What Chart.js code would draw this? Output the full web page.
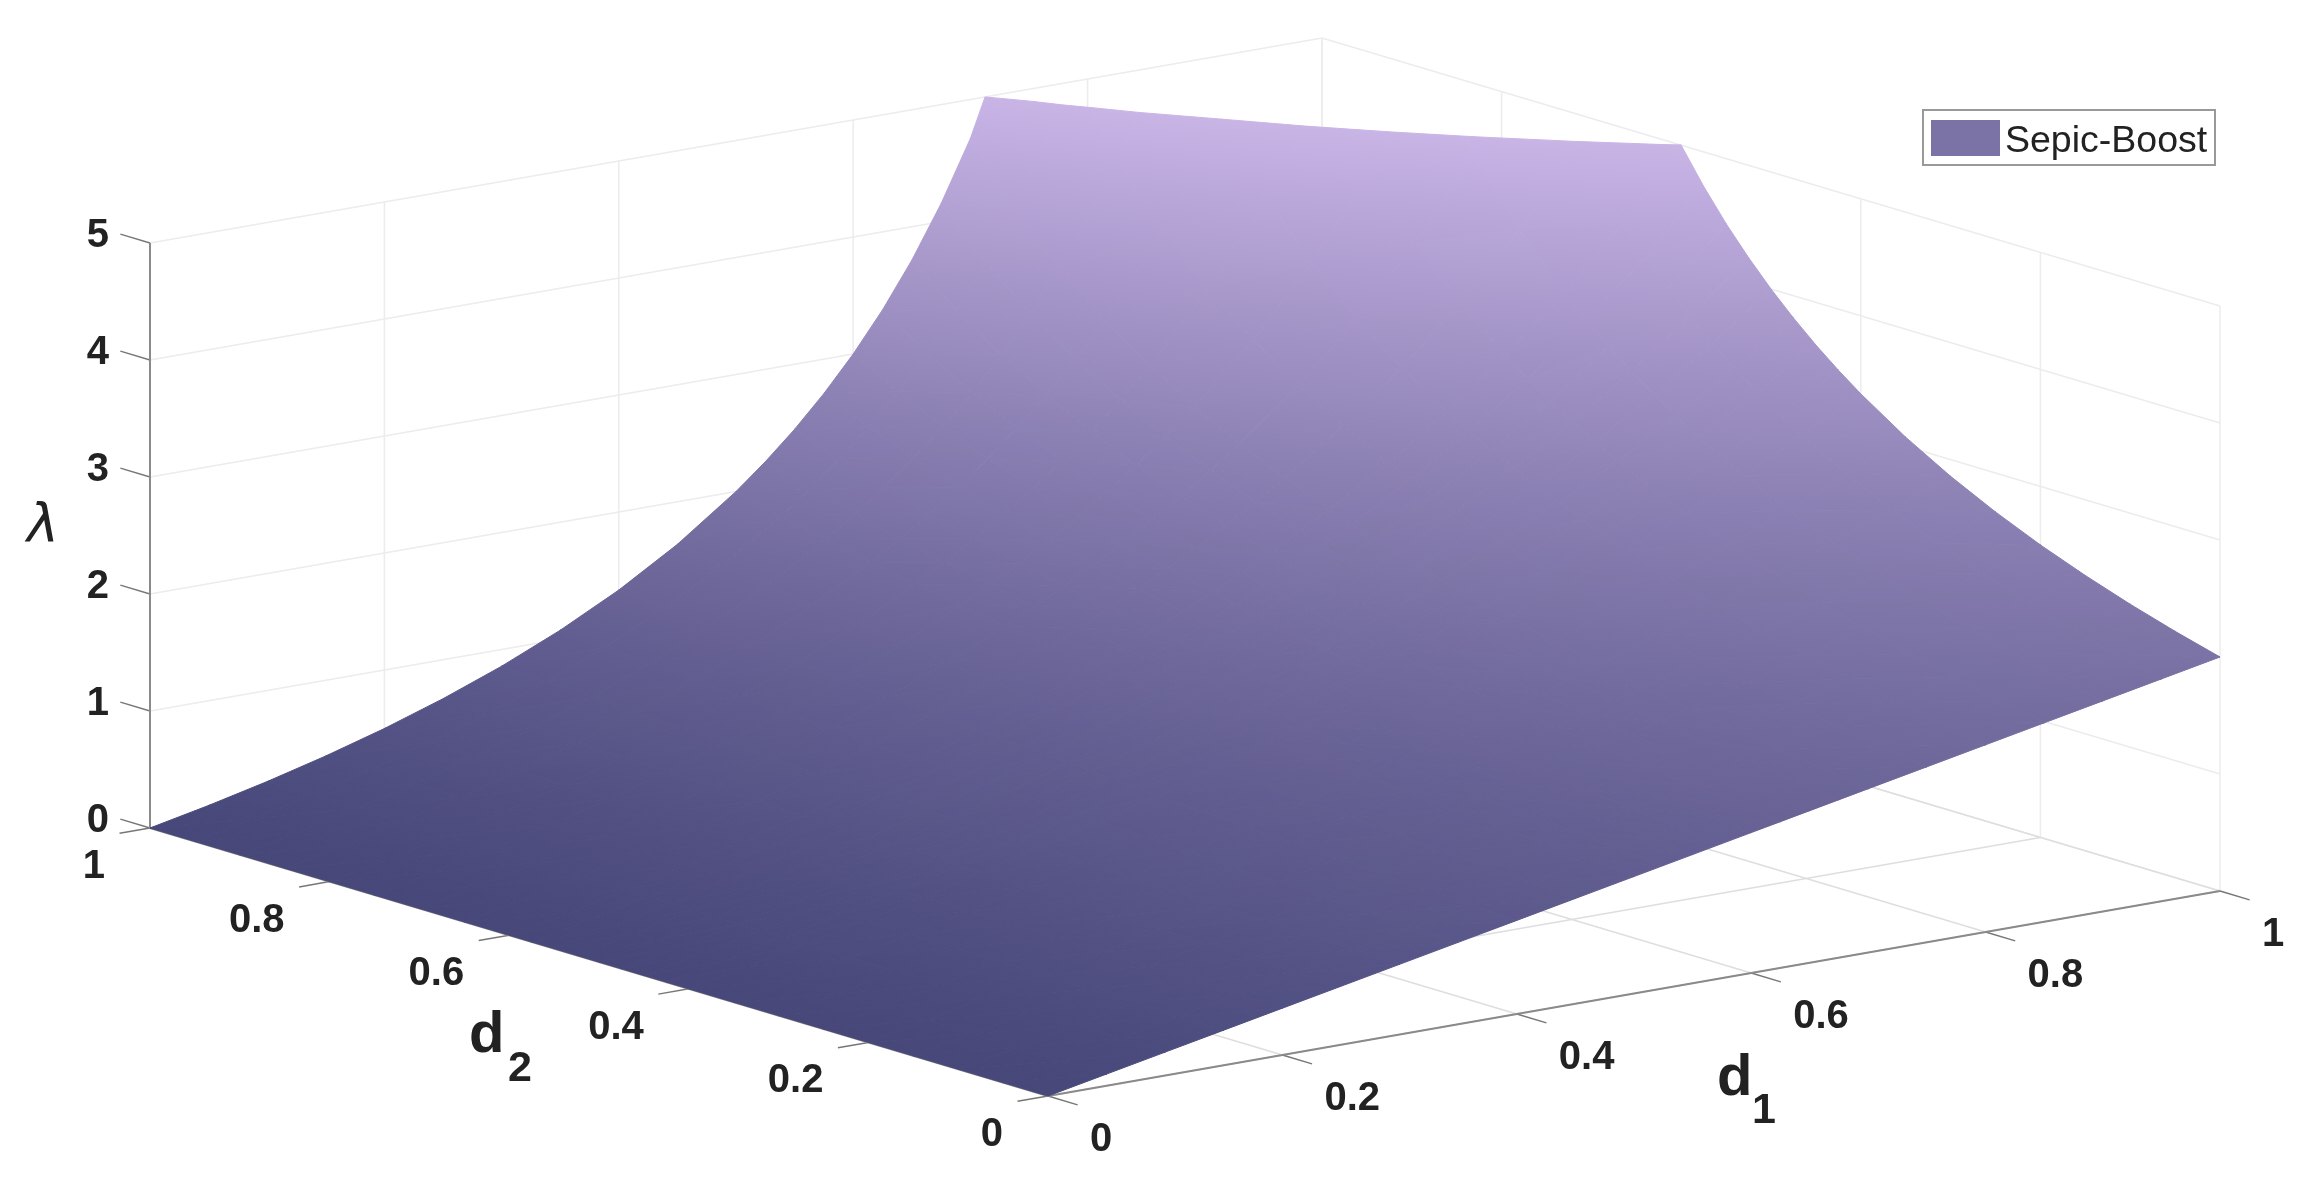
<!DOCTYPE html>
<html>
<head>
<meta charset="utf-8">
<title>Sepic-Boost</title>
<script src="https://cdn.jsdelivr.net/npm/chart.js@4"></script>
<style>
body { margin: 0; background: #fff; }
canvas { display: block; }
</style>
</head>
<body>
<canvas id="myChart" width="2313" height="1186"></canvas>
<script>
// values, rows are d1, columns are d2
// the steps get shorter where the surface bends hard
var d1Grid = [0, .05, .1, .15, .2, .25, .3, .35, .4, .45, .5, .525, .55, .575, .6, .625, .65, .675, .7, .75, .8, .85, .9, .95, 1];
var d2Grid = [0, .05, .1, .15, .2, .25, .3, .35, .4, .425, .45, .475, .5, .525, .55, .575, .6, .65, .7, .75, .8, .85, .9, .95, 1];
var lambdaRows = [
    [0, 0, 0, 0, 0, 0, 0, 0, 0, 0, 0, 0, 0, 0, 0, 0, 0, 0, 0, 0, 0, 0, 0, 0, 0],
    [.1, .1, .101, .101, .101, .101, .102, .102, .102, .102, .102, .102, .103, .103, .103, .103, .103, .103, .104, .104, .104, .104, .105, .105, .105],
    [.2, .201, .202, .203, .204, .205, .206, .207, .208, .209, .209, .21, .211, .211, .212, .212, .213, .214, .215, .216, .217, .219, .22, .221, .222],
    [.3, .302, .305, .307, .309, .312, .314, .317, .319, .32, .322, .323, .324, .326, .327, .328, .33, .332, .335, .338, .341, .344, .347, .35, .353],
    [.4, .404, .408, .412, .417, .421, .426, .43, .435, .437, .44, .442, .444, .447, .449, .452, .455, .46, .465, .471, .476, .482, .488, .494, .5],
    [.5, .506, .513, .519, .526, .533, .541, .548, .556, .559, .563, .567, .571, .576, .58, .584, .588, .597, .606, .615, .625, .635, .645, .656, .667],
    [.6, .609, .619, .628, .638, .649, .659, .67, .682, .688, .694, .7, .706, .712, .719, .725, .732, .745, .76, .774, .789, .805, .822, .839, .857],
    [.7, .713, .725, .739, .753, .767, .782, .798, .814, .822, .831, .84, .849, .858, .867, .876, .886, .906, .927, .949, .972, .997, 1.022, 1.049, 1.077],
    [.8, .816, .833, .851, .87, .889, .909, .93, .952, .964, .976, .988, 1, 1.013, 1.026, 1.039, 1.053, 1.081, 1.111, 1.143, 1.176, 1.212, 1.25, 1.29, 1.333],
    [.9, .921, .942, .965, .989, 1.014, 1.041, 1.068, 1.098, 1.113, 1.129, 1.145, 1.161, 1.178, 1.196, 1.214, 1.233, 1.272, 1.314, 1.359, 1.406, 1.458, 1.513, 1.572, 1.636],
    [1, 1.026, 1.053, 1.081, 1.111, 1.143, 1.176, 1.212, 1.25, 1.27, 1.29, 1.311, 1.333, 1.356, 1.379, 1.404, 1.429, 1.481, 1.538, 1.6, 1.667, 1.739, 1.818, 1.905, 2],
    [1.05, 1.078, 1.108, 1.14, 1.173, 1.209, 1.246, 1.286, 1.329, 1.352, 1.375, 1.399, 1.424, 1.45, 1.476, 1.504, 1.533, 1.594, 1.66, 1.732, 1.81, 1.896, 1.99, 2.095, 2.211],
    [1.1, 1.131, 1.164, 1.199, 1.236, 1.275, 1.317, 1.362, 1.41, 1.436, 1.462, 1.489, 1.517, 1.547, 1.577, 1.609, 1.642, 1.712, 1.789, 1.872, 1.964, 2.066, 2.178, 2.304, 2.444],
    [1.15, 1.184, 1.22, 1.259, 1.299, 1.343, 1.39, 1.44, 1.494, 1.522, 1.551, 1.582, 1.614, 1.647, 1.682, 1.718, 1.756, 1.836, 1.925, 2.022, 2.13, 2.249, 2.383, 2.535, 2.706],
    [1.2, 1.237, 1.277, 1.319, 1.364, 1.412, 1.463, 1.519, 1.579, 1.611, 1.644, 1.678, 1.714, 1.752, 1.791, 1.832, 1.875, 1.967, 2.069, 2.182, 2.308, 2.449, 2.609, 2.791, 3],
    [1.25, 1.29, 1.333, 1.379, 1.429, 1.481, 1.538, 1.6, 1.667, 1.702, 1.739, 1.778, 1.818, 1.86, 1.905, 1.951, 2, 2.105, 2.222, 2.353, 2.5, 2.667, 2.857, 3.077, 3.333],
    [1.3, 1.344, 1.39, 1.44, 1.494, 1.552, 1.615, 1.683, 1.757, 1.796, 1.837, 1.881, 1.926, 1.973, 2.023, 2.076, 2.131, 2.251, 2.385, 2.537, 2.708, 2.905, 3.132, 3.399, 3.714],
    [1.35, 1.397, 1.448, 1.502, 1.561, 1.624, 1.693, 1.768, 1.849, 1.893, 1.939, 1.987, 2.038, 2.091, 2.147, 2.206, 2.269, 2.405, 2.559, 2.734, 2.935, 3.167, 3.439, 3.763, 4.154],
    [1.4, 1.451, 1.505, 1.564, 1.628, 1.697, 1.772, 1.854, 1.944, 1.993, 2.044, 2.097, 2.154, 2.213, 2.276, 2.343, 2.414, 2.569, 2.745, 2.947, 3.182, 3.457, 3.784, 4.179, 4.667],
    [1.5, 1.558, 1.622, 1.69, 1.765, 1.846, 1.935, 2.034, 2.143, 2.202, 2.264, 2.33, 2.4, 2.474, 2.553, 2.637, 2.727, 2.927, 3.158, 3.429, 3.75, 4.138, 4.615, 5.217, 6],
    [1.6, 1.667, 1.739, 1.818, 1.905, 2, 2.105, 2.222, 2.353, 2.424, 2.5, 2.581, 2.667, 2.759, 2.857, 2.963, 3.077, 3.333, 3.636, 4, 4.444, 5, 5.714, 6.667, 8],
    [1.7, 1.775, 1.858, 1.948, 2.048, 2.159, 2.282, 2.42, 2.576, 2.661, 2.753, 2.851, 2.956, 3.07, 3.192, 3.325, 3.469, 3.799, 4.197, 4.689, 5.312, 6.126, 7.233, 8.83, 11.33],
    [1.8, 1.885, 1.978, 2.081, 2.195, 2.323, 2.466, 2.628, 2.813, 2.915, 3.025, 3.144, 3.273, 3.412, 3.564, 3.731, 3.913, 4.337, 4.865, 5.539, 6.429, 7.66, 9.47, 12.41, 18],
    [1.9, 1.995, 2.1, 2.216, 2.346, 2.492, 2.657, 2.847, 3.065, 3.187, 3.319, 3.463, 3.619, 3.791, 3.979, 4.188, 4.419, 4.968, 5.672, 6.609, 7.918, 9.87, 13.1, 19.5, 38],
    [2, 2.105, 2.222, 2.353, 2.5, 2.667, 2.857, 3.077, 3.333, 3.478, 3.636, 3.81, 4, 4.211, 4.444, 4.706, 5, 5.714, 6.667, 8, 10, 13.33, 20, 40, 99]
];
var seriesName = 'Sepic-Boost';

var d1Ticks = [0, .2, .4, .6, .8, 1];
var d2Ticks = [0, .2, .4, .6, .8, 1];
var zTicks = [0, 1, 2, 3, 4, 5];
var d1TickLabels = ['0', '0.2', '0.4', '0.6', '0.8', '1'];
var d2TickLabels = ['0', '0.2', '0.4', '0.6', '0.8', '1'];
var zTickLabels = ['0', '1', '2', '3', '4', '5'];

// orthographic view of the box, like matlab's default camera
var zMax = 5;
function project(d1, d2, z) {
    return {
        x: 1048 + 1172 * d1 - 898 * d2,
        y: 1096 - 205 * d1 - 268 * d2 - 117 * z
    };
}

var lowColor = [71, 71, 122];
var highColor = [201, 180, 230];
function colorAt(z) {
    var t = Math.max(0, Math.min(1, z / zMax));
    var c = lowColor.map(function (v, i) { return Math.round(v + (highColor[i] - v) * t); });
    return 'rgb(' + c.join(',') + ')';
}

var canvas = document.getElementById('myChart');
var ctx = canvas.getContext('2d');

// colour runs along the steepest z direction of each triangle
function triangleGradient(tri) {
    var p = tri.map(function (v) { return project(v.d1, v.d2, v.z); });
    var ax = p[1].x - p[0].x, ay = p[1].y - p[0].y;
    var bx = p[2].x - p[0].x, by = p[2].y - p[0].y;
    var dz1 = tri[1].z - tri[0].z, dz2 = tri[2].z - tri[0].z;
    var det = ax * by - ay * bx;
    var gx = (dz1 * by - dz2 * ay) / det;
    var gy = (ax * dz2 - bx * dz1) / det;
    var g2 = gx * gx + gy * gy;
    var zs = tri.map(function (v) { return v.z; });
    var lo = Math.min.apply(null, zs);
    var hi = Math.min(Math.max.apply(null, zs), zMax);
    if (g2 < 1e-12 || hi <= lo) return colorAt(lo);
    var x0 = p[0].x + gx * (lo - tri[0].z) / g2;
    var y0 = p[0].y + gy * (lo - tri[0].z) / g2;
    var x1 = p[0].x + gx * (hi - tri[0].z) / g2;
    var y1 = p[0].y + gy * (hi - tri[0].z) / g2;
    var grad = ctx.createLinearGradient(x0, y0, x1, y1);
    grad.addColorStop(0, colorAt(lo));
    grad.addColorStop(1, colorAt(hi));
    return grad;
}

// cut the part of the triangle that goes above the z axis limit
function clipTop(tri) {
    var out = [];
    for (var i = 0; i < tri.length; i++) {
        var a = tri[i], b = tri[(i + 1) % tri.length];
        if (a.z <= zMax) out.push(a);
        if ((a.z <= zMax) !== (b.z <= zMax)) {
            var t = (zMax - a.z) / (b.z - a.z);
            out.push({ d1: a.d1 + (b.d1 - a.d1) * t, d2: a.d2 + (b.d2 - a.d2) * t, z: zMax });
        }
    }
    return out;
}

function vertex(i, j) {
    return { d1: d1Grid[i], d2: d2Grid[j], z: lambdaRows[i][j] };
}

var datasets = [];

function addTriangle(tri) {
    var poly = clipTop(tri);
    if (poly.length < 3) return;
    var color = triangleGradient(tri);
    var pts = poly.map(function (v) { return project(v.d1, v.d2, v.z); });
    pts.push(pts[0]);
    datasets.push({
        label: seriesName,
        data: pts,
        showLine: true,
        fill: 'shape',
        backgroundColor: color,
        borderColor: color,
        borderWidth: 1,
        pointRadius: 0,
        tension: 0
    });
}

// diagonal runs along the height contours, keeps the top edge clean
for (var i = 0; i < d1Grid.length - 1; i++) {
    for (var j = 0; j < d2Grid.length - 1; j++) {
        addTriangle([vertex(i, j), vertex(i + 1, j), vertex(i, j + 1)]);
        addTriangle([vertex(i + 1, j), vertex(i + 1, j + 1), vertex(i, j + 1)]);
    }
}

function addLine(from, to, color, width) {
    datasets.push({
        data: [project(from[0], from[1], from[2]), project(to[0], to[1], to[2])],
        showLine: true,
        fill: false,
        borderColor: color,
        borderWidth: width,
        pointRadius: 0
    });
}

// axes and ticks, on top of the grid
var axisColor = '#8a8a8a';
addLine([0, 0, 0], [1, 0, 0], axisColor, 2);
addLine([0, 0, 0], [0, 1, 0], axisColor, 2);
addLine([0, 1, 0], [0, 1, zMax], axisColor, 2);
d1Ticks.forEach(function (v) { addLine([v, 0, 0], [v, -.033, 0], '#777', 1.5); });
d2Ticks.forEach(function (v) { addLine([0, v, 0], [-.026, v, 0], '#777', 1.5); });
zTicks.forEach(function (v) { addLine([0, 1, v], [0, 1.033, v], '#777', 1.5); });

// floor grid
var floorColor = '#dedede';
var wallColor = '#ececec';
d1Ticks.forEach(function (v) { addLine([v, 0, 0], [v, 1, 0], floorColor, 1.5); });
d2Ticks.forEach(function (v) { addLine([0, v, 0], [1, v, 0], floorColor, 1.5); });

// the two back walls
d1Ticks.forEach(function (v) { addLine([v, 1, 0], [v, 1, zMax], wallColor, 1.5); });
d2Ticks.forEach(function (v) { addLine([1, v, 0], [1, v, zMax], wallColor, 1.5); });
zTicks.forEach(function (v) {
    addLine([0, 1, v], [1, 1, v], wallColor, 1.5);
    addLine([1, 1, v], [1, 0, v], wallColor, 1.5);
});

var textPlugin = {
    id: 'axisText',
    afterDraw: function (chart) {
        var c = chart.ctx;
        var sx = chart.scales.x, sy = chart.scales.y;
        function at(d1, d2, z) {
            var p = project(d1, d2, z);
            return { x: sx.getPixelForValue(p.x), y: sy.getPixelForValue(p.y) };
        }
        c.save();
        c.fillStyle = '#222';
        c.font = 'bold 40px "Liberation Sans"';
        c.textBaseline = 'middle';

        c.textAlign = 'left';
        d1Ticks.forEach(function (v, i) {
            var p = at(v, 0, 0);
            c.fillText(d1TickLabels[i], p.x + 42, p.y + 44);
        });
        c.textAlign = 'right';
        d2Ticks.forEach(function (v, i) {
            var p = at(0, v, 0);
            c.fillText(d2TickLabels[i], p.x - 45, p.y + 39);
        });
        zTicks.forEach(function (v, i) {
            var p = at(0, 1, v);
            c.fillText(zTickLabels[i], p.x - 41, p.y - 7);
        });

        // axis titles
        c.textAlign = 'left';
        c.textBaseline = 'alphabetic';
        c.font = 'bold 58px "Liberation Sans"';
        c.fillText('d', 469, 1052);
        c.fillText('d', 1717, 1095);
        c.font = 'bold 43px "Liberation Sans"';
        c.fillText('2', 508, 1081);
        c.fillText('1', 1752, 1123);
        c.font = 'italic 54px "DejaVu Sans"';
        c.fillText('\u03bb', 27, 542);

        // legend box
        c.fillStyle = '#fff';
        c.fillRect(1923, 110, 292, 55);
        c.strokeStyle = '#999';
        c.lineWidth = 2;
        c.strokeRect(1923, 110, 292, 55);
        c.fillStyle = colorAt(2);
        c.fillRect(1931, 120, 69, 36);
        c.fillStyle = '#222';
        c.font = '37.5px "Liberation Sans"';
        c.fillText(seriesName, 2005, 152);
        c.restore();
    }
};

new Chart(ctx, {
    type: 'scatter',
    data: { datasets: datasets },
    options: {
        responsive: false,
        animation: false,
        events: [],
        layout: { padding: 0 },
        plugins: { legend: { display: false }, tooltip: { enabled: false } },
        scales: {
            x: { type: 'linear', display: false, min: 0, max: 2313 },
            y: { type: 'linear', display: false, min: 0, max: 1186, reverse: true }
        }
    },
    plugins: [textPlugin]
});
</script>
</body>
</html>
